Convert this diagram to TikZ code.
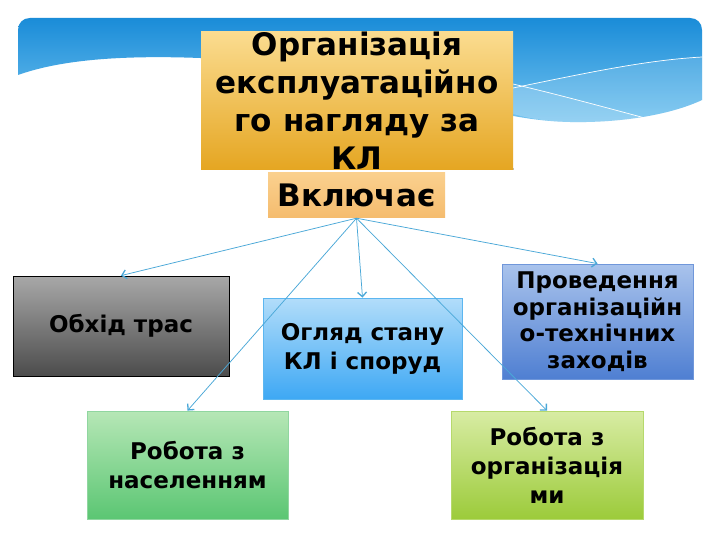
\documentclass[tikz,border=0pt]{standalone}
\usepackage{fontspec}
\setmainfont{DejaVu Sans}
\usetikzlibrary{arrows.meta}
\definecolor{bannerTop}{HTML}{1A8CD8}
\definecolor{bannerBot}{HTML}{74C4F0}
\definecolor{goldTop}{HTML}{FBDC90}
\definecolor{goldBot}{HTML}{E5A622}
\definecolor{incTop}{HTML}{FAD08E}
\definecolor{incBot}{HTML}{F5BC6E}
\definecolor{grayTop}{HTML}{A8A8A8}
\definecolor{grayBot}{HTML}{4C4C4C}
\definecolor{skyTop}{HTML}{B2DDFA}
\definecolor{skyBot}{HTML}{3EA8F4}
\definecolor{skyLine}{HTML}{5CB6F0}
\definecolor{blueTop}{HTML}{A9C3EC}
\definecolor{blueBot}{HTML}{4F7FD2}
\definecolor{blueLine}{HTML}{7097DA}
\definecolor{greenTop}{HTML}{B6E7B6}
\definecolor{greenBot}{HTML}{5BC673}
\definecolor{greenLine}{HTML}{90D6A0}
\definecolor{limeTop}{HTML}{D8ECA4}
\definecolor{limeBot}{HTML}{9CCB3A}
\definecolor{limeLine}{HTML}{B6D96C}
\definecolor{connCol}{HTML}{4AA8D8}
\tikzset{
  box/.style={inner sep=0pt, align=center, font=\bfseries\fontsize{23}{29}\selectfont},
  conn/.style={draw=connCol, line width=0.75pt,
    -{Straight Barb[length=4.5pt,width=9pt,line width=1.3pt]}},
}
\begin{document}
\begin{tikzpicture}[x=1pt,y=-1pt]
\useasboundingbox (0,0) rectangle (720,540);
\fill[white] (0,0) rectangle (720,540);
% banner
\shade[top color=bannerTop, bottom color=bannerBot]
  (18,75) -- (18,30) .. controls (18,23) and (23,18) .. (30,18) -- (690,18)
  .. controls (697,18) and (702,23) .. (702,30) -- (702,100)
  .. controls (670,115) and (620,123) .. (570,122)
  .. controls (520,121) and (480,108) .. (440,100) -- (300,70) -- (200,58)
  .. controls (120,55) and (60,60) .. (18,75) -- cycle;
\fill[white, opacity=0.14] (513,88) .. controls (600,70) and (650,60) .. (702,57) -- (702,100)
  .. controls (670,115) and (620,123) .. (570,122)
  .. controls (545,121.5) and (528,118) .. (513,114) -- cycle;
\fill[white, opacity=0.12] (513,84) .. controls (560,95) and (600,106) .. (645,118)
  .. controls (620,122) and (590,122.5) .. (570,122)
  .. controls (545,121.5) and (528,118) .. (513,114) -- cycle;
\draw[white, line width=0.7pt] (513,88) .. controls (600,70) and (650,60) .. (702,57);
\draw[white, line width=0.7pt] (513,84) .. controls (560,95) and (600,106) .. (645,118);
% title
\fill[black!25] (202,168) rectangle (514,170.5);
\node[box, top color=goldTop, bottom color=goldBot, minimum width=312pt, minimum height=137pt,
  font=\bfseries\fontsize{31}{38}\selectfont] (title) at (357,100.5)
  {Організація\\експлуатаційно\\го нагляду за\\КЛ};
\node[box, top color=incTop, bottom color=incBot, minimum width=177pt, minimum height=45pt,
  font=\bfseries\fontsize{31}{38}\selectfont] (inc) at (356.5,195.5) {Включає};
% boxes
\node[box, draw=black, line width=0.8pt, top color=grayTop, bottom color=grayBot,
  minimum width=216pt, minimum height=100pt] (obhid) at (121,326) {Обхід трас};
\node[box, draw=skyLine, line width=0.8pt, top color=skyTop, bottom color=skyBot,
  minimum width=199pt, minimum height=101pt] (ohl) at (362.5,348.5) {Огляд стану\\КЛ і споруд};
\node[box, draw=blueLine, line width=0.8pt, top color=blueTop, bottom color=blueBot,
  minimum width=191pt, minimum height=115pt, font=\bfseries\fontsize{23}{26.5}\selectfont]
  (prov) at (597.5,321.5) {Проведення\\організаційн\\о-технічних\\заходів};
\node[box, draw=greenLine, line width=0.8pt, top color=greenTop, bottom color=greenBot,
  minimum width=201pt, minimum height=108pt] (nas) at (187.5,465) {Робота з\\населенням};
\node[box, draw=limeLine, line width=0.8pt, top color=limeTop, bottom color=limeBot,
  minimum width=192pt, minimum height=108pt] (org) at (547,465) {Робота з\\організація\\ми};
% connectors
\draw[conn] (inc.south) -- (obhid.north);
\draw[conn] (inc.south) -- (ohl.north);
\draw[conn] (inc.south) -- (prov.north);
\draw[conn] (inc.south) -- (nas.north);
\draw[conn] (inc.south) -- (org.north);
\end{tikzpicture}
\end{document}
